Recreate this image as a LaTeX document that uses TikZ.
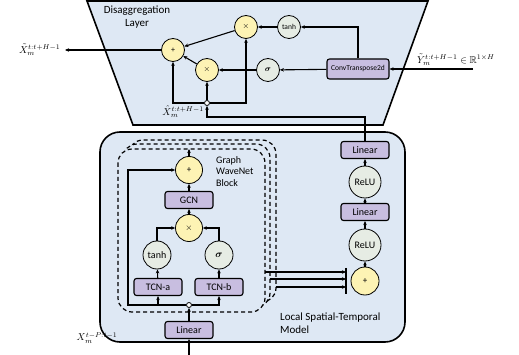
\documentclass[tikz,border=0pt]{standalone}
\usepackage{amsmath, amssymb}
\usepackage{fontspec}
\setsansfont{Carlito}
\usepackage{tikz}
\usetikzlibrary{positioning, arrows.meta}

\definecolor{panelblue}{HTML}{DEE8F4}
\definecolor{opyellow}{HTML}{FDF3B4}
\definecolor{actgrey}{HTML}{E6ECE4}
\definecolor{layerpurple}{HTML}{C8BEE0}

\tikzset{
  panel/.style={draw, line width=1.6pt, fill=panelblue},
  op/.style={draw, circle, fill=opyellow, inner sep=0pt, line width=0.8pt, minimum size=27pt, font=\sffamily\fontsize{9}{10}\selectfont},
  act/.style={draw, circle, fill=actgrey, inner sep=0pt, line width=0.8pt, minimum size=28pt, font=\sffamily\fontsize{10}{11}\selectfont},
  layer/.style={draw, rounded corners=2.5pt, fill=layerpurple, line width=1.1pt, minimum width=48pt, minimum height=17pt, inner sep=1pt, font=\sffamily\fontsize{10}{11}\selectfont},
  junc/.style={draw, circle, fill=white, inner sep=0pt, minimum size=5pt, line width=0.8pt},
  flow/.style={line width=1.1pt, -{Stealth[length=4pt, width=3.5pt]}},
  gwblock/.style={line width=1.2pt, dash pattern=on 4pt off 3pt, rounded corners=14pt},
  paneltitle/.style={font=\sffamily\fontsize{11}{12.5}\selectfont, inner sep=0pt},
}

\begin{document}
\begin{tikzpicture}[x=1pt, y=-1pt]
\useasboundingbox (0,0) rectangle (519,355);

% disaggregation layer
\draw[panel] (87,1) -- (428,1) -- (383,125) -- (133,125) -- cycle;
\node[paneltitle, align=center] (dtitle) at (137,17) {Disaggregation\\Layer};

\node[op, minimum size=23pt, font=\sffamily\fontsize{8}{9}\selectfont] (dplus) at (173,50) {+};
\node[op, minimum size=23pt, font=\fontsize{8}{9}\selectfont] (dmulA) at (246,27) {$\times$};
\node[op, minimum size=23pt, font=\fontsize{8}{9}\selectfont] (dmulB) at (207,70) {$\times$};
\node[act, minimum size=23pt, font=\sffamily\fontsize{7.5}{8}\selectfont] (dtanh) at (289,27) {tanh};
\node[act, minimum size=23pt, font=\fontsize{8}{9}\selectfont] (dsig) at (268,70) {$\boldsymbol{\sigma}$};
\node[layer, minimum width=62pt, minimum height=20pt, font=\sffamily\fontsize{7.5}{8}\selectfont] (convt) at (358,69) {ConvTranspose2d};
\node[junc] (djn) at (207,103) {};

\coordinate (yin) at (473,69);
\coordinate (xout) at (65,50);
\coordinate (hatbend) at (365,117);

\node[anchor=south west, inner sep=0pt] (ylab) at (417,66) {$\tilde{Y}_m^{t:t+H-1}\in\mathbb{R}^{1\times H}$};
\node[left=1pt of xout] (xlab) {$\tilde{X}_m^{t:t+H-1}$};
\node[anchor=east, inner sep=0pt] (hatlab) at (204,112) {$\hat{X}_m^{t:t+H-1}$};

% local spatial-temporal model
\draw[panel, rounded corners=20pt] (100,132) rectangle (405,342);
\node[paneltitle, align=left, anchor=north west] (ltitle) at (280,313) {Local Spatial-Temporal\\Model};

% stacked graph wavenet blocks
\begin{scope}[even odd rule]
  \clip[rounded corners=14pt] (100,132) rectangle (405,342) (118,149) rectangle (265,312);
  \draw[gwblock] (123,144) rectangle (270,307);
\end{scope}
\begin{scope}[even odd rule]
  \clip[rounded corners=14pt] (100,132) rectangle (405,342) (118,149) rectangle (265,312);
  \clip[rounded corners=14pt] (100,132) rectangle (405,342) (123,144) rectangle (270,307);
  \draw[gwblock] (129,140) rectangle (276,302);
\end{scope}
\draw[gwblock] (118,149) rectangle (265,312);
\node[font=\sffamily\fontsize{10}{11.5}\selectfont, align=left, anchor=north west, inner sep=0pt] (gwlab) at (216,156) {Graph\\WaveNet\\Block};

\node[op] (gplus) at (189,170) {+};
\node[layer] (gcn) at (189,200) {GCN};
\node[op, font=\fontsize{9}{10}\selectfont] (gmul) at (189,228) {$\times$};
\node[act] (gtanh) at (157,255) {tanh};
\node[act, font=\fontsize{10}{11}\selectfont] (gsig) at (219,255) {$\boldsymbol{\sigma}$};
\node[layer] (tcna) at (158,287) {TCN-a};
\node[layer] (tcnb) at (219,287) {TCN-b};
\node[junc] (gjn) at (189,305) {};
\node[layer] (lin0) at (189,330) {Linear};

\coordinate (gout) at (189,149);
\coordinate (resA) at (128,305);
\coordinate (resB) at (128,170);
\coordinate (xin) at (189,355);
\node[inner sep=0pt] (xinlab) at (97,338) {$X_m^{t-P:t-1}$};

\node[layer] (lin3) at (365,150) {Linear};
\node[act, minimum size=32pt] (relu2) at (365,182) {ReLU};
\node[layer] (lin2) at (365,212) {Linear};
\node[act, minimum size=32pt] (relu1) at (365,245) {ReLU};
\node[op, minimum size=28pt] (rplus) at (365,281) {+};

\coordinate (barT) at (346,268);
\coordinate (barB) at (346,294);
\coordinate (o1) at (265,272);
\coordinate (o2) at (270,279);
\coordinate (o3) at (276,287);

% connectors
\draw[flow] (yin) -- (convt);
\draw[flow] (convt.north) |- (dtanh);
\draw[flow] (dtanh) -- (dmulA);
\draw[flow] (convt) -- (dsig);
\draw[flow] (dsig) -- (dmulB);
\draw[flow] (dmulA) -- (dplus);
\draw[flow] (dmulB) -- (dplus);
\draw[flow] (dplus) -- (xout);
\draw[flow] (djn) -- (dmulB);
\draw[flow] (djn) -| (dplus);
\draw[flow] (djn) -| (dmulA);
\draw[flow] (lin3) -- (hatbend) -| (djn);

\draw[flow, line width=1.8pt] (xin) -- (lin0);
\draw[flow] (lin0) -- (gjn);
\draw[flow] (gjn) -| (tcna);
\draw[flow] (gjn) -| (tcnb);
\draw[flow] (gjn) -- (resA) -- (resB) -- (gplus);
\draw[flow] (tcna) -- (gtanh);
\draw[flow] (tcnb) -- (gsig);
\draw[flow] (gtanh) |- (gmul);
\draw[flow] (gsig) |- (gmul);
\draw[flow] (gmul) -- (gcn);
\draw[flow] (gcn) -- (gplus);
\draw[flow] (gplus) -- (gout);

\draw[line width=1.2pt] (barT) -- (barB);
\draw[flow] (o1) -- (o1 -| barT);
\draw[flow] (o2) -- (o2 -| barT);
\draw[flow] (o3) -- (o3 -| barT);
\draw[flow] (rplus) -- (relu1);
\draw[flow] (relu1) -- (lin2);
\draw[flow] (lin2) -- (relu2);
\draw[flow] (relu2) -- (lin3);
\end{tikzpicture}
\end{document}
